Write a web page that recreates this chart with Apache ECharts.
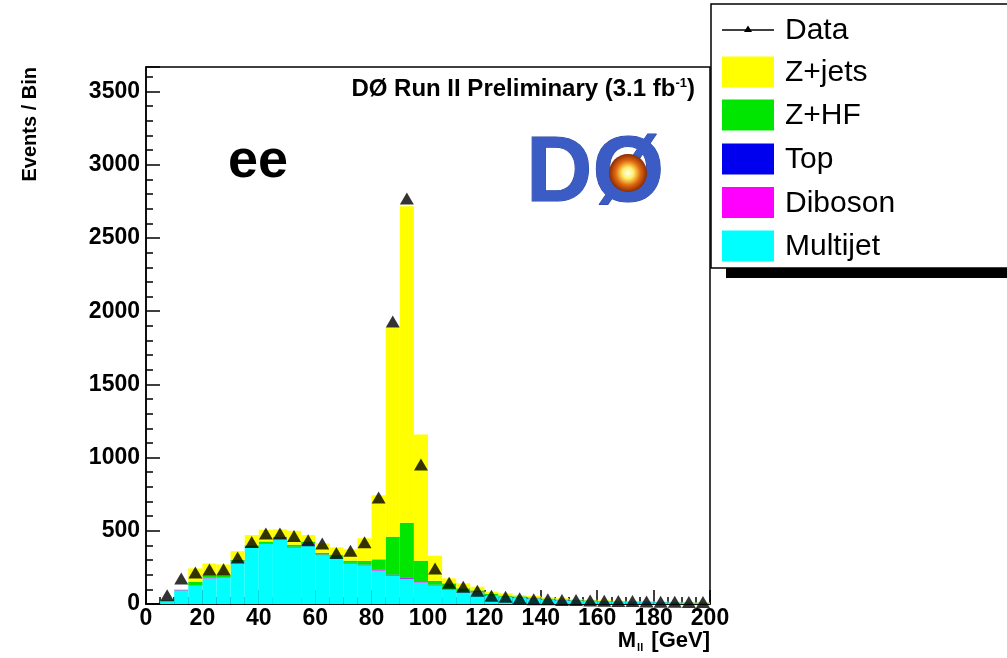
<!DOCTYPE html>
<html>
<head>
<meta charset="utf-8">
<script src="https://cdn.jsdelivr.net/npm/echarts@6/dist/echarts.min.js"></script>
<style>
html,body{margin:0;padding:0;background:#fff;}
#chart{width:1007px;height:658px;}
</style>
</head>
<body>
<div id="chart"></div>
<script>
// bin edges: 40 bins of 5 GeV from 0 to 200
var binLow = [0,5,10,15,20,25,30,35,40,45,50,55,60,65,70,75,80,85,90,95,100,105,110,115,120,125,130,135,140,145,150,155,160,165,170,175,180,185,190,195];
var binWidth = 5;

var multijet = [0,22,92,125,175,177,285,385,410,443,385,405,333,317,276,263,228,193,170,147,126,97,81,76,58,47,43,36,30,25,22,20,18,16,15,13,12,11,10,9];
var diboson  = [0,1,2,2,3,3,3,3,4,4,4,4,3,3,3,4,4,5,5,5,4,3,3,2,2,2,2,2,1,1,1,1,1,1,1,1,1,1,1,1];
var top_     = [0,0,1,1,1,1,1,1,1,1,2,2,2,2,2,2,3,3,3,3,2,2,1,1,1,1,1,1,1,1,1,1,0,0,0,0,0,0,0,0];
var zhf      = [0,2,3,25,18,17,12,12,12,12,14,15,12,12,15,25,70,259,377,141,26,39,22,14,8,8,6,6,5,4,3,3,2,2,2,2,1,1,1,1];
var zjets    = [0,0,2,90,80,72,60,70,80,50,95,45,64,53,78,155,437,1428,2161,861,172,34,34,25,15,15,9,10,9,8,5,4,4,3,3,3,3,2,2,2];
var data     = [null,60,175,216,236,238,318,424,481,481,465,435,413,349,363,422,728,1929,2769,953,243,145,118,91,57,50,39,32,32,27,27,24,22,20,20,17,16,15,14,14];

var xTicks = [0,20,40,60,80,100,120,140,160,180,200];
var yTicks = [0,500,1000,1500,2000,2500,3000,3500];

var compNames  = ['Multijet','Diboson','Top','Z+HF','Z+jets'];
var compArrays = [multijet, diboson, top_, zhf, zjets];
var compColors = ['#00ffff','#ff00ff','#0000ee','#00e600','#ffff00'];

var legendNames = ['Data','Z+jets','Z+HF','Top','Diboson','Multijet'];

var chart = echarts.init(document.getElementById('chart'));

// Build stacked rectangles
var cum = binLow.map(function(){return 0;});
var series = [];
compArrays.forEach(function(arr, k){
  var rects = [];
  for (var i=0;i<binLow.length;i++){
    var b = cum[i], t = cum[i] + arr[i];
    if (arr[i] > 0) rects.push([binLow[i], binLow[i]+binWidth, b, t]);
    cum[i] = t;
  }
  var col = compColors[k];
  series.push({
    name: compNames[k],
    type: 'custom',
    data: rects,
    encode: {x:[0,1], y:[2,3]},
    z: 2,
    renderItem: function(params, api){
      var p0 = api.coord([api.value(0), api.value(2)]);
      var p1 = api.coord([api.value(1), api.value(3)]);
      return {type:'rect', shape:{x:p0[0], y:p1[1], width:p1[0]-p0[0], height:p0[1]-p1[1]},
        style:{fill:col, stroke:null}};
    }
  });
});

var dataPts = [];
for (var i=0;i<binLow.length;i++){
  if (data[i] !== null) dataPts.push([binLow[i]+binWidth/2, data[i]]);
}
series.push({
  name:'Data', type:'scatter', data:dataPts, symbol:'triangle', symbolSize:[14,12],
  itemStyle:{color:'#000'}, z:5
});

var F = 'Liberation Sans, Arial, Helvetica, sans-serif';

// Legend graphic
var g = [];
g.push({type:'rect', shape:{x:726, y:268, width:300, height:10}, style:{fill:'#000'}, z:10});
g.push({type:'rect', shape:{x:711, y:4, width:320, height:264}, style:{fill:'#fff', stroke:'#000', lineWidth:1.5}, z:11});
var legColors = {'Z+jets':'#ffff00','Z+HF':'#00e600','Top':'#0000ee','Diboson':'#ff00ff','Multijet':'#00ffff'};
var rowY = [30, 72, 115, 159, 202.5, 246];
legendNames.forEach(function(n, k){
  var cy = rowY[k];
  if (n === 'Data'){
    g.push({type:'line', shape:{x1:722, y1:cy, x2:774, y2:cy}, style:{stroke:'#000', lineWidth:1.5}, z:12});
    g.push({type:'polygon', shape:{points:[[748,cy-4.5],[744,cy+2],[752,cy+2]]}, style:{fill:'#000'}, z:12});
  } else {
    g.push({type:'rect', shape:{x:722, y:cy-15.5, width:52, height:31}, style:{fill:legColors[n]}, z:12});
  }
  g.push({type:'text', style:{text:n, x:785, y:cy+1, font:'30px ' + F, fill:'#000', textVerticalAlign:'middle'}, z:12});
});

// DØ logo approximation
g.push({type:'text', style:{text:'DØ', x:526, y:176, font:'900 92px ' + F, fill:'#3a5cc4', stroke:'#2a469e', lineWidth:1, textVerticalAlign:'middle'}, z:8});
g.push({type:'circle', shape:{cx:628, cy:173, r:19},
  style:{fill:new echarts.graphic.RadialGradient(0.5,0.5,0.5,[{offset:0,color:'#ffffff'},{offset:0.3,color:'#ffee66'},{offset:0.65,color:'#e06a10'},{offset:1,color:'#8a2a05'}])}, z:9});
g.push({type:'text', style:{text:'ee', x:228, y:162, font:'900 54px ' + F, fill:'#000', textVerticalAlign:'middle'}, z:8});

// x-axis title
g.push({type:'text', z:8, style:{
  text:'{a|M}{b|ll}{a| [GeV]}', x:710, y:641, textAlign:'right', textVerticalAlign:'middle',
  rich:{a:{fontFamily:F, fontWeight:'bold', fontSize:22, fill:'#000', color:'#000'},
        b:{fontFamily:F, fontWeight:'bold', fontSize:11, fill:'#000', color:'#000', padding:[14,2,0,1]}}
}});

var option = {
  backgroundColor:'#fff',
  animation:false,
  grid:{left:146, right:297, top:67, bottom:54, show:true, borderColor:'#000', borderWidth:1.5, backgroundColor:'transparent'},
  xAxis:{
    type:'value', min:0, max:200, interval:20,
    axisLine:{lineStyle:{color:'#000', width:1.5}},
    axisTick:{inside:true, length:14, lineStyle:{color:'#000', width:1.5}},
    minorTick:{show:true, splitNumber:4, length:7, lineStyle:{color:'#000', width:1.5}},
    splitLine:{show:false},
    axisLabel:{color:'#000', fontFamily:F, fontWeight:'bold', fontSize:23, margin:3,
      formatter:function(v){return xTicks.indexOf(v)>=0 ? String(v) : '';}}
  },
  yAxis:{
    type:'value', min:0, max:3668, interval:500,
    name:'Events / Bin', nameLocation:'end', nameRotate:90, nameGap:0,
    nameTextStyle:{fontFamily:F, fontWeight:'bold', fontSize:20, color:'#000', align:'right', verticalAlign:'bottom', padding:[0,0,106,0]},
    axisLine:{lineStyle:{color:'#000', width:1.5}},
    axisTick:{inside:true, length:14, lineStyle:{color:'#000', width:1.5}},
    minorTick:{show:true, splitNumber:5, length:7, lineStyle:{color:'#000', width:1.5}},
    splitLine:{show:false},
    axisLabel:{color:'#000', fontFamily:F, fontWeight:'bold', fontSize:23, margin:6, showMaxLabel:false,
      formatter:function(v){return yTicks.indexOf(v)>=0 ? String(v) : '';}}
  },
  title:{
    text:'{t|DØ Run II Preliminary (3.1 fb}{s|-1}{t|)}',
    right:307, top:72,
    textStyle:{rich:{t:{fontFamily:F, fontWeight:'bold', fontSize:24, color:'#000'}, s:{fontFamily:F, fontWeight:'bold', fontSize:13, color:'#000', verticalAlign:'top', padding:[0,0,12,0]}}}
  },
  series: series,
  graphic: g
};
chart.setOption(option);
</script>
</body>
</html>
